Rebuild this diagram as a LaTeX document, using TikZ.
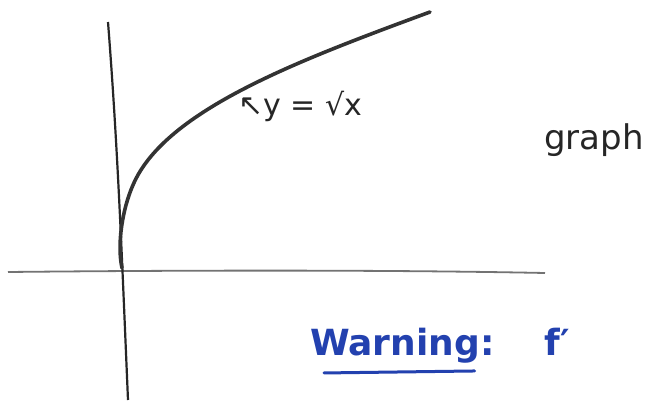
\documentclass[tikz,border=0pt]{standalone}
\usepackage{fontspec}
\setmainfont{DejaVu Sans}
\begin{document}
\begin{tikzpicture}[x=1pt,y=-1pt,
  axis/.style={line width=2.2pt,draw=black!85},
  haxis/.style={line width=1.8pt,draw=black!55},
  curve/.style={line width=3.6pt,draw=black!80,line cap=round},
  lbl/.style={font=\fontsize{30}{30}\selectfont,text=black!85,inner sep=0pt},
  warn/.style={font=\fontsize{36}{36}\selectfont\bfseries,text=wblue,inner sep=0pt}]
\definecolor{wblue}{RGB}{35,65,175}
\useasboundingbox (0,0) rectangle (649,402);
\fill[white] (0,0) rectangle (649,402);
% axes
\coordinate (ytop) at (108,22);
\coordinate (ybot) at (128,400);
\coordinate (xl) at (8,272);
\coordinate (xr) at (545,273);
\coordinate (o) at (122,268);
\draw[haxis] (xl) .. controls (200,270) and (400,270) .. (xr);
\draw[axis] (ytop) .. controls (118,150) and (122,260) .. (ybot);
% curve y = sqrt x
\coordinate (c1) at (430,12);
\draw[curve] (o) .. controls (117,245) and (122,210) .. (133,185)
  .. controls (165,110) and (300,60) .. (c1);
% labels
\node[lbl,anchor=center] (fx) at (300,106) {↖y = √x};
\node[lbl,anchor=center,font=\fontsize{34}{34}\selectfont] (gr) at (594,140) {graph};
\node[warn,anchor=base west] (w) at (310,355) {Warning:};
\node[warn,anchor=base west] (fp) at ([xshift=50pt]w.base east) {f′};
\draw[wblue,line width=3pt,line cap=round] ([xshift=14pt,yshift=-10pt]w.south west) -- ([xshift=-20pt,yshift=-8pt]w.south east);
\end{tikzpicture}
\end{document}
